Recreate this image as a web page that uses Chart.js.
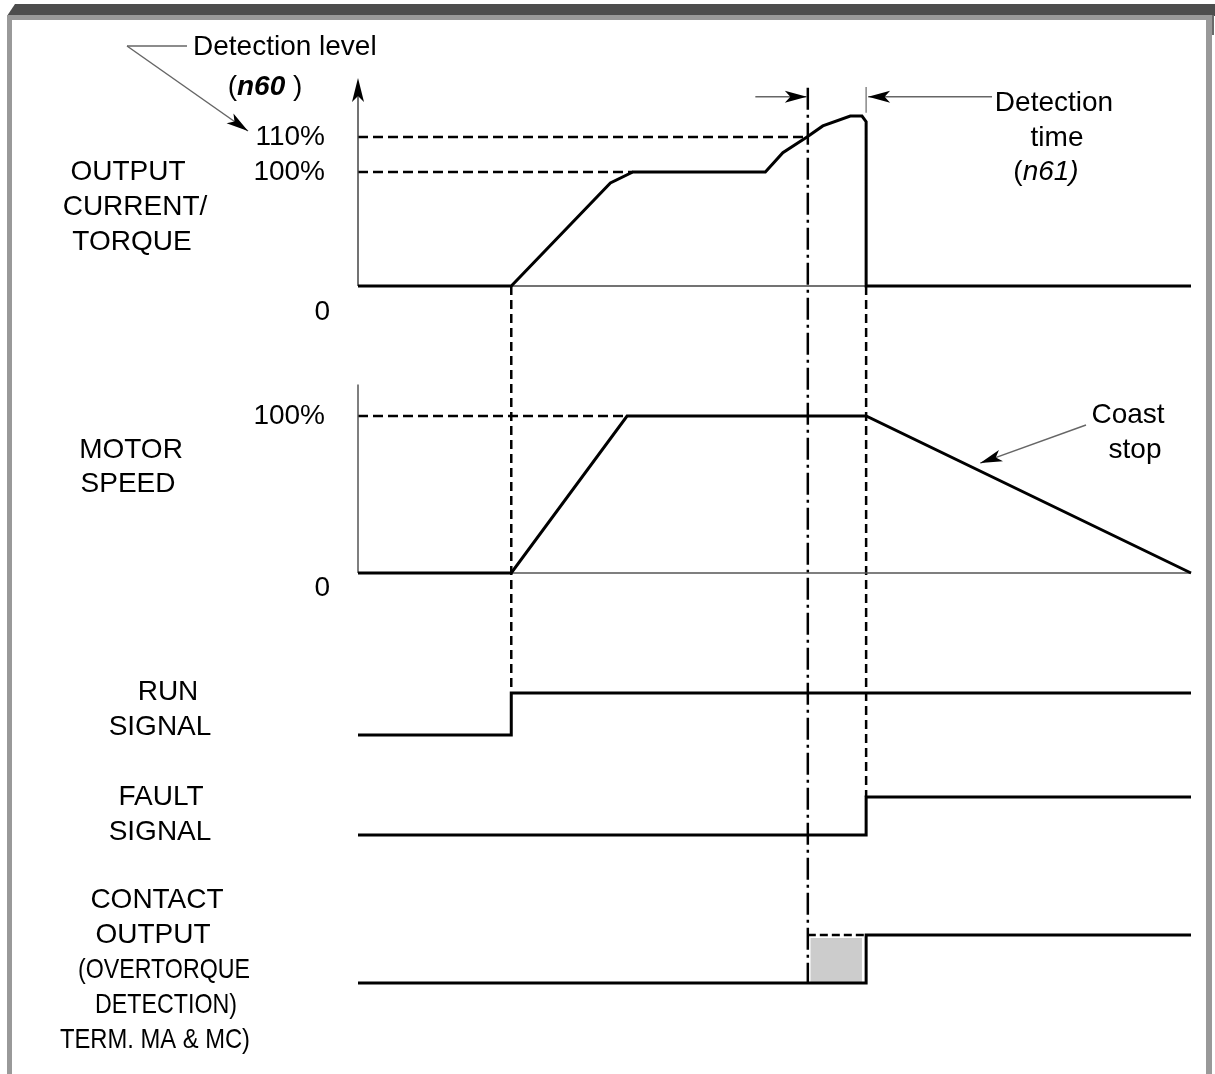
<!DOCTYPE html>
<html>
<head>
<meta charset="utf-8">
<script src="https://cdn.jsdelivr.net/npm/chart.js@4.4.1/dist/chart.umd.min.js"></script>
<style>
  html, body { margin: 0; padding: 0; background: #fff; }
  canvas { display: block; }
</style>
</head>
<body>
<canvas id="timing" width="1215" height="1074"></canvas>
<script>
// time runs 0..100 across the diagram (arbitrary units)
const tRunOn = 18.4;
const tDetect = 54.0;
const tTrip = 61.0;

// output current, drawn height (the 100 % line = 100)
const currentTime  = [0, 18.4, 30.3, 33.0, 48.9, 51.0, 53.9, 55.8, 59.1, 60.5, 61.0, 61.0, 100];
const currentLevel = [0, 0, 90.4, 100, 100, 116.9, 130.7, 140.4, 149.1, 149.1, 144.1, 0, 0];
const detectLevel = 130.7;   // where the 110 % line sits

// motor speed, %
const speedTime  = [0, 18.4, 32.3, 61.0, 100];
const speedLevel = [0, 0, 100, 100, 0];

// digital signals, 0 = off, 1 = on
const runTime = [0, 18.4, 18.4, 100];
const runLevel = [0, 0, 1, 1];
const faultTime = [0, 61.0, 61.0, 100];
const faultLevel = [0, 0, 1, 1];
const contactTime = [0, 61.0, 61.0, 100];
const contactLevel = [0, 0, 1, 1];

const currentTicks = ['0', '100%', '110%'];
const speedTicks = ['0', '100%'];

const FONT = '"Liberation Sans", Arial, Helvetica, sans-serif';
const AREA_TOP = 78, AREA_BOTTOM = 983;

// min/max for a panel axis so that 0 sits at basePx and `level` at levelPx
function band(basePx, levelPx, level) {
    var k = (basePx - levelPx) / level;
    return { min: -(AREA_BOTTOM - basePx) / k, max: (basePx - AREA_TOP) / k };
}

function xy(ts, vs) {
    return ts.map(function(t, i) { return { x: t, y: vs[i] }; });
}

function line(axis, data, extra) {
    return Object.assign({
        yAxisID: axis,
        data: data,
        borderColor: '#000',
        borderWidth: 3,
        pointRadius: 0,
        tension: 0,
        fill: false,
        clip: false,
        borderJoinStyle: 'miter'
    }, extra || {});
}

function arrowHead(ctx, x0, y0, x1, y1, len, half) {
    var a = Math.atan2(y1 - y0, x1 - x0);
    ctx.save();
    ctx.translate(x1, y1);
    ctx.rotate(a);
    ctx.beginPath();
    ctx.moveTo(0, 0);
    ctx.lineTo(-len, -half);
    ctx.lineTo(-len * 0.75, 0);
    ctx.lineTo(-len, half);
    ctx.closePath();
    ctx.fillStyle = '#000';
    ctx.fill();
    ctx.restore();
}

function leader(ctx, x0, y0, x1, y1) {
    ctx.save();
    ctx.strokeStyle = '#666';
    ctx.lineWidth = 1.5;
    ctx.beginPath();
    ctx.moveTo(x0, y0);
    ctx.lineTo(x1, y1);
    ctx.stroke();
    ctx.restore();
    arrowHead(ctx, x0, y0, x1, y1, 22, 6);
}

function vline(ctx, x, y0, y1, dash, width, color) {
    ctx.save();
    ctx.strokeStyle = color || '#000';
    ctx.lineWidth = width;
    ctx.setLineDash(dash);
    ctx.beginPath();
    ctx.moveTo(x, y0);
    ctx.lineTo(x, y1);
    ctx.stroke();
    ctx.restore();
}

function text(ctx, s, x, y, align, maxW, style) {
    ctx.font = (style || '') + ' 28px ' + FONT;
    ctx.textAlign = align || 'center';
    ctx.textBaseline = 'middle';
    ctx.fillStyle = '#000';
    if (maxW) ctx.fillText(s, x, y, maxW); else ctx.fillText(s, x, y);
}

// text made of pieces in different styles, centred on x
function mixed(ctx, parts, cx, y) {
    var total = 0;
    parts.forEach(function(p) {
        ctx.font = p[1] + ' 28px ' + FONT;
        total += ctx.measureText(p[0]).width;
    });
    var x = cx - total / 2;
    parts.forEach(function(p) {
        text(ctx, p[0], x, y, 'left', null, p[1]);
        ctx.font = p[1] + ' 28px ' + FONT;
        x += ctx.measureText(p[0]).width;
    });
}

const rowLabels = [
    ['OUTPUT', 128, 172], ['CURRENT/', 135, 207], ['TORQUE', 132, 242],
    ['MOTOR', 131, 450], ['SPEED', 128, 484],
    ['RUN', 168, 692], ['SIGNAL', 160, 727],
    ['FAULT', 161, 797], ['SIGNAL', 160, 832],
    ['CONTACT', 157, 900], ['OUTPUT', 153, 935],
    ['(OVERTORQUE', 164, 970, 172], ['DETECTION)', 166, 1005, 142],
    ['TERM. MA & MC)', 155, 1040, 190]
];

const framePlugin = {
    id: 'frame',
    beforeDraw: function(chart) {
        var ctx = chart.ctx;
        ctx.save();
        ctx.fillStyle = '#4d4d4d';
        ctx.beginPath();
        ctx.moveTo(7, 16);
        ctx.lineTo(15, 4);
        ctx.lineTo(1215, 4);
        ctx.lineTo(1215, 16);
        ctx.closePath();
        ctx.fill();
        ctx.fillStyle = '#999';
        ctx.fillRect(7, 15, 5, 1059);
        ctx.fillRect(7, 15, 1205, 5);
        ctx.fillRect(1206, 15, 6, 1059);
        ctx.fillStyle = '#6a6a6a';
        ctx.fillRect(1212, 15, 2, 20);
        ctx.restore();
    },
    beforeDatasetsDraw: function(chart) {
        var ctx = chart.ctx, s = chart.scales;
        var x = s.x, yc = s.yCur;
        // markers linking the panels
        vline(ctx, x.getPixelForValue(tRunOn), yc.getPixelForValue(0), s.yRun.getPixelForValue(1), [9, 5], 2.5);
        vline(ctx, x.getPixelForValue(tTrip), yc.getPixelForValue(0), s.yFlt.getPixelForValue(1), [9, 5], 2.5);
        vline(ctx, x.getPixelForValue(tDetect), yc.getPixelForValue(174), s.yCon.getPixelForValue(0), [22, 5, 3, 5], 2.5);
        vline(ctx, x.getPixelForValue(tTrip), yc.getPixelForValue(174.5), yc.getPixelForValue(152), [], 1.5, '#888');
    },
    afterDatasetsDraw: function(chart) {
        var ctx = chart.ctx, s = chart.scales;
        var x = s.x, yc = s.yCur, ys = s.ySpd;
        var x0 = x.getPixelForValue(0);

        // axis arrow of the current panel
        arrowHead(ctx, x0, yc.getPixelForValue(0), x0, AREA_TOP, 24, 6);

        // tick labels
        text(ctx, currentTicks[2], 325, yc.getPixelForValue(detectLevel), 'right');
        text(ctx, currentTicks[1], 325, yc.getPixelForValue(100), 'right');
        text(ctx, currentTicks[0], 330, yc.getPixelForValue(0) + 26, 'right');
        text(ctx, speedTicks[1], 325, ys.getPixelForValue(100), 'right');
        text(ctx, speedTicks[0], 330, ys.getPixelForValue(0) + 15, 'right');

        rowLabels.forEach(function(r) { text(ctx, r[0], r[1], r[2], 'center', r[3]); });

        // detection level callout
        text(ctx, 'Detection level', 193, 47, 'left');
        mixed(ctx, [['(', ''], ['n60', 'italic bold'], [' )', '']], 265, 87);
        ctx.save();
        ctx.strokeStyle = '#666';
        ctx.lineWidth = 1.5;
        ctx.beginPath();
        ctx.moveTo(127, 46);
        ctx.lineTo(187, 46);
        ctx.stroke();
        ctx.restore();
        leader(ctx, 127, 46, 248, 131);

        // detection time callout
        var yArrow = yc.getPixelForValue(166);
        leader(ctx, x.getPixelForValue(47.7), yArrow, x.getPixelForValue(tDetect) - 1, yArrow);
        leader(ctx, 992, yArrow, x.getPixelForValue(tTrip) + 2, yArrow);
        text(ctx, 'Detection', 1054, 103);
        text(ctx, 'time', 1057, 138);
        mixed(ctx, [['(', ''], ['n61)', 'italic']], 1046, 172);

        // coast stop callout
        text(ctx, 'Coast', 1128, 415);
        text(ctx, 'stop', 1135, 450);
        leader(ctx, 1086, 425, x.getPixelForValue(74.7), ys.getPixelForValue(70));
    }
};

const cur = band(286, 172, 100);
const spd = band(573, 416, 100);
const run = band(735, 693, 1);
const flt = band(835, 797, 1);
const con = band(983, 935, 1);

const ctx = document.getElementById('timing').getContext('2d');
new Chart(ctx, {
    type: 'line',
    data: {
        datasets: [
            line('yCur', xy(currentTime, currentLevel)),
            line('ySpd', xy(speedTime, speedLevel)),
            line('yRun', xy(runTime, runLevel)),
            line('yFlt', xy(faultTime, faultLevel)),
            line('yCon', xy(contactTime, contactLevel)),
            // axes of the two analog panels
            line('yCur', xy([0, 100], [0, 0]), { borderWidth: 1.5, borderColor: '#444' }),
            line('yCur', xy([0, 0], [0, 170]), { borderWidth: 1.5, borderColor: '#444' }),
            line('ySpd', xy([0, 100], [0, 0]), { borderWidth: 1.5, borderColor: '#555' }),
            line('ySpd', xy([0, 0], [0, 120]), { borderWidth: 1.5, borderColor: '#555' }),
            // reference levels
            line('yCur', xy([0, tDetect], [detectLevel, detectLevel]), { borderWidth: 2.5, borderDash: [10, 5] }),
            line('yCur', xy([0, 33.0], [100, 100]), { borderWidth: 2.5, borderDash: [10, 5] }),
            line('ySpd', xy([0, 32.3], [100, 100]), { borderWidth: 2.5, borderDash: [10, 5] }),
            // contact output waiting for the detection time
            line('yCon', xy([tDetect, tTrip], [1, 1]), { borderWidth: 2.5, borderDash: [8, 4] }),
            line('yCon', xy([tDetect + 0.3, tTrip - 0.5], [0.94, 0.94]), {
                borderWidth: 0, fill: 'origin', backgroundColor: '#cccccc'
            })
        ]
    },
    options: {
        responsive: false,
        animation: false,
        events: [],
        layout: { padding: { top: AREA_TOP, bottom: 1074 - AREA_BOTTOM, left: 358, right: 24 } },
        plugins: { legend: { display: false }, tooltip: { enabled: false } },
        scales: {
            x: { type: 'linear', min: 0, max: 100, display: false },
            yCur: { type: 'linear', min: cur.min, max: cur.max, display: false },
            ySpd: { type: 'linear', min: spd.min, max: spd.max, display: false },
            yRun: { type: 'linear', min: run.min, max: run.max, display: false },
            yFlt: { type: 'linear', min: flt.min, max: flt.max, display: false },
            yCon: { type: 'linear', min: con.min, max: con.max, display: false }
        }
    },
    plugins: [framePlugin]
});
</script>
</body>
</html>
